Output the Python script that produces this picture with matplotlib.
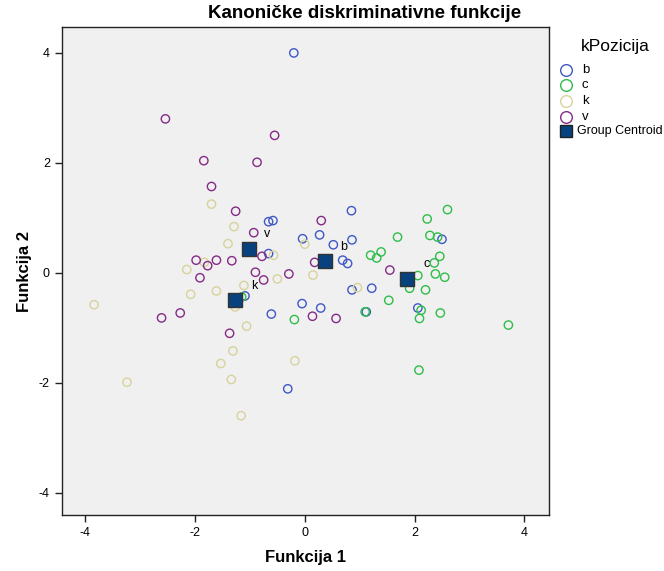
import matplotlib
matplotlib.use("Agg")
import matplotlib.pyplot as plt
from matplotlib.lines import Line2D

plt.rcParams['font.family'] = ['Liberation Sans', 'DejaVu Sans']
plt.rcParams['axes.unicode_minus'] = False

# discriminant scores per group (Funkcija 1, Funkcija 2)
b_x = [-0.20, -0.66, -0.58, -0.04, -0.66, 0.27, 0.52, 0.86, 0.85, 0.69, 0.78,
       0.86, 1.22, -1.09, -0.61, -0.05, 0.29, 1.12, 2.06, 2.50, -0.31]
b_y = [4.00, 0.93, 0.95, 0.62, 0.35, 0.69, 0.51, 0.60, 1.13, 0.23, 0.17,
       -0.31, -0.28, -0.42, -0.75, -0.56, -0.64, -0.71, -0.64, 0.61, -2.11]

c_x = [2.60, 2.23, 1.69, 2.28, 2.42, 1.39, 1.20, 1.31, 2.46, 2.36, 2.06, 2.38,
       2.55, 1.91, 2.20, 1.53, 1.10, 2.12, 2.09, 2.47, 3.71, 2.08, -1.15, -0.19]
c_y = [1.15, 0.98, 0.65, 0.68, 0.65, 0.38, 0.32, 0.27, 0.30, 0.18, -0.05, -0.02,
       -0.08, -0.28, -0.31, -0.50, -0.71, -0.68, -0.83, -0.73, -0.95, -1.77, -0.44, -0.85]

k_x = [-1.70, -1.29, 0.00, -1.40, -0.57, -1.83, -2.15, -0.50, -1.11, -1.27, -2.08,
       -1.61, 0.15, 0.96, -3.84, -1.06, -1.31, -1.53, -1.34, -0.18, -3.24, -1.16]
k_y = [1.25, 0.84, 0.52, 0.53, 0.32, 0.19, 0.06, -0.11, -0.23, -0.62, -0.39,
       -0.33, -0.04, -0.27, -0.58, -0.97, -1.42, -1.65, -1.94, -1.60, -1.99, -2.60]

v_x = [-2.54, -0.55, -1.84, -0.87, -1.70, -1.26, -0.93, -0.78, -1.98, -1.77, -1.61, -1.33,
       -0.90, -0.29, -1.91, -0.75, 0.30, 0.18, 1.55, -2.61, -2.27, -1.37, 0.14, 0.57]
v_y = [2.80, 2.50, 2.04, 2.01, 1.57, 1.12, 0.73, 0.30, 0.23, 0.13, 0.23, 0.22,
       0.01, -0.02, -0.09, -0.13, 0.95, 0.19, 0.05, -0.82, -0.73, -1.10, -0.79, -0.83]

groups = ['b', 'c', 'k', 'v']
colors = ['#3e58c6', '#2fbd4a', '#d8d29c', '#852a86']
centroid_x = [0.37, 1.87, -1.27, -1.02]
centroid_y = [0.21, -0.11, -0.50, 0.44]
centroid_color = '#07427f'

fig = plt.figure(figsize=(6.64, 5.71), dpi=100)
ax = fig.add_axes([0.0929, 0.0976, 0.7339, 0.855])
ax.set_facecolor('#f0f0f0')

series = [(b_x, b_y), (c_x, c_y), (k_x, k_y), (v_x, v_y)]
for (xs, ys), col in zip(series, colors):
    ax.scatter(xs, ys, s=36, facecolors='none', edgecolors=col, linewidths=1.0, zorder=2)

ax.scatter(centroid_x, centroid_y, s=100, marker='s', color=centroid_color,
           edgecolors='#333333', linewidths=1.0, zorder=3)
for g, cx, cy in zip(groups, centroid_x, centroid_y):
    ax.annotate(g, (cx, cy), xytext=(13.5, 10.5), textcoords='offset points',
                ha='center', va='center', fontsize=9, zorder=4)

ax.set_xlim(-4.43, 4.45)
ax.set_ylim(-4.41, 4.47)
ax.set_xticks([-4, -2, 0, 2, 4])
ax.set_yticks([-4, -2, 0, 2, 4])
ax.tick_params(direction='out', length=5, width=1, labelsize=9, color='#222222')
for sp in ax.spines.values():
    sp.set_color('#222222')
    sp.set_linewidth(1)

ax.set_xlabel('Funkcija 1', fontsize=12, fontweight='bold', labelpad=8)
ax.set_ylabel('Funkcija 2', fontsize=12, fontweight='bold', labelpad=5)
fig.text(365 / 664, 1 - 14 / 571, 'Kanoničke diskriminativne funkcije',
         ha='center', va='center', fontsize=13.5, fontweight='bold')

# legend drawn by hand in figure pixels (SPSS style layout)
H = 571
fig.text(615 / 664, 1 - 46 / H, 'kPozicija', ha='center', va='center', fontsize=12.5)
rows_y = [70, 85.5, 101, 116.5]
for g, col, py in zip(groups, colors, rows_y):
    fig.add_artist(Line2D([565.5 / 664], [1 - py / H], marker='o', linestyle='none',
                          markersize=8.4, markerfacecolor='none', markeredgecolor=col,
                          markeredgewidth=1.0))
    fig.text(582 / 664, 1 - py / H, g, ha='left', va='center', fontsize=9.5)
fig.add_artist(Line2D([566 / 664], [1 - 131 / H], marker='s', linestyle='none',
                      markersize=8.4, markerfacecolor=centroid_color,
                      markeredgecolor='#222222', markeredgewidth=1.0))
fig.text(577 / 664, 1 - 131 / H, 'Group Centroid', ha='left', va='center', fontsize=9)

fig.savefig('out.png', dpi=100)
